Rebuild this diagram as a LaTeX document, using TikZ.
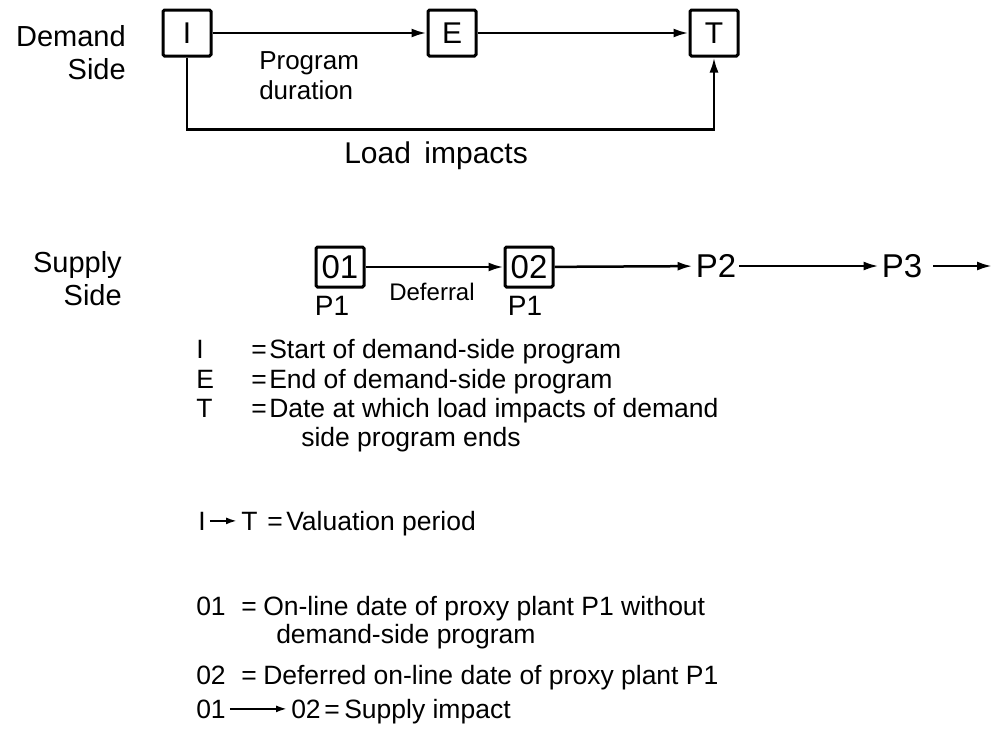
\documentclass[tikz,border=0pt]{standalone}
\usepackage{fontspec}
\setmainfont{Liberation Sans}
\usetikzlibrary{arrows.meta}
\begin{document}
\begin{tikzpicture}[x=1pt,y=-1pt,
  line width=2.5pt,
  flow/.style={-{Latex[length=15pt,width=9pt]}},
  keyflow/.style={line width=2pt,-{Latex[length=11pt,width=7pt]},shorten <=3pt,shorten >=3pt},
  stage/.style={draw,line width=3pt,rounded corners=1.5pt,minimum width=48pt,
    minimum height=46pt,inner sep=0pt,font=\fontsize{30}{30}\selectfont},
  plant/.style={draw,line width=3pt,rounded corners=1.5pt,minimum width=48pt,
    minimum height=40pt,inner sep=0pt,font=\fontsize{33}{33}\selectfont},
  sidelabel/.style={align=right,font=\fontsize{29}{33}\selectfont,inner sep=0pt},
  lbl/.style={font=\fontsize{26}{30}\selectfont,inner sep=0pt},
  plabel/.style={font=\fontsize{33}{34}\selectfont,inner sep=2pt},
  key/.style={anchor=base west,font=\fontsize{26.5}{29}\selectfont,inner sep=0pt},
]
\useasboundingbox (0,0) rectangle (995,755);

% ---- demand side ----
\node[sidelabel,anchor=north east] (dside) at (127,24) {Demand\\Side};
\node[stage] (I) at (187,33) {I};
\node[stage] (E) at (452,33) {E};
\node[stage] (T) at (714,33) {T};
\draw[flow] (I) -- (E);
\draw[flow] (E) -- (T);
\draw[flow] (I.south) -- ++(0,72) -| (T.south);
\node[lbl,anchor=north west,align=left] (pd) at (258,50) {Program\\duration};
\node[font=\fontsize{30}{32}\selectfont,anchor=base west,inner sep=0pt] (li) at (343,163) {Load\hspace{0.45em}impacts};

% ---- supply side ----
\node[sidelabel,anchor=north east] (sside) at (123,250) {Supply\\Side};
\node[plant] (o1) at (340,267) {01};
\node[plant] (o2) at (529,267) {02};
\node[plabel] (p2) at (716,266) {P2};
\node[plabel] (p3) at (902,266) {P3};
\coordinate (tail) at (992,266);
\draw[flow] (o1) -- (o2);
\draw[flow] (o2) -- (p2);
\draw[flow] (p2) -- (p3);
\draw[flow,shorten <=8pt] (p3) -- (tail);
\node[lbl,font=\fontsize{28}{30}\selectfont,anchor=north] (p1a) at ([xshift=-8pt,yshift=-6pt]o1.south) {P1};
\node[lbl,font=\fontsize{28}{30}\selectfont,anchor=north] (p1b) at ([xshift=-4pt,yshift=-6pt]o2.south) {P1};
\node[lbl,font=\fontsize{24}{26}\selectfont,anchor=base] (defer) at (432,300) {Deferral};

% ---- key ----
\node[key] (s1) at (195,358) {I};
\node[key] (q1) at (250,358) {=};
\node[key] (d1) at (268,358) {Start of demand-side program};
\node[key] (s2) at (195,388) {E};
\node[key] (q2) at (250,388) {=};
\node[key] (d2) at (268,388) {End of demand-side program};
\node[key] (s3) at (195,417) {T};
\node[key] (q3) at (250,417) {=};
\node[key] (d3) at (268,417) {Date at which load impacts of demand};
\node[key] (d3b) at (300,446) {side program ends};

\node[key] (vI) at (197,530) {I};
\node[key] (vT) at (240,530) {T};
\draw[keyflow] (vI) -- (vT);
\node[key] (vq) at (266,530) {=};
\node[key] (vd) at (285,530) {Valuation period};

\node[key] (k1) at (195,615) {01};
\node[key] (k1q) at (240,615) {=};
\node[key] (k1d) at (262,615) {On-line date of proxy plant P1 without};
\node[key] (k1e) at (275,643) {demand-side program};
\node[key] (k2) at (195,684) {02};
\node[key] (k2q) at (240,684) {=};
\node[key] (k2d) at (262,684) {Deferred on-line date of proxy plant P1};
\node[key] (sa) at (195,718) {01};
\node[key] (sb) at (290,718) {02};
\draw[keyflow] (sa) -- (sb);
\node[key] (sq) at (323,718) {=};
\node[key] (sd) at (343,718) {Supply impact};
\end{tikzpicture}
\end{document}
